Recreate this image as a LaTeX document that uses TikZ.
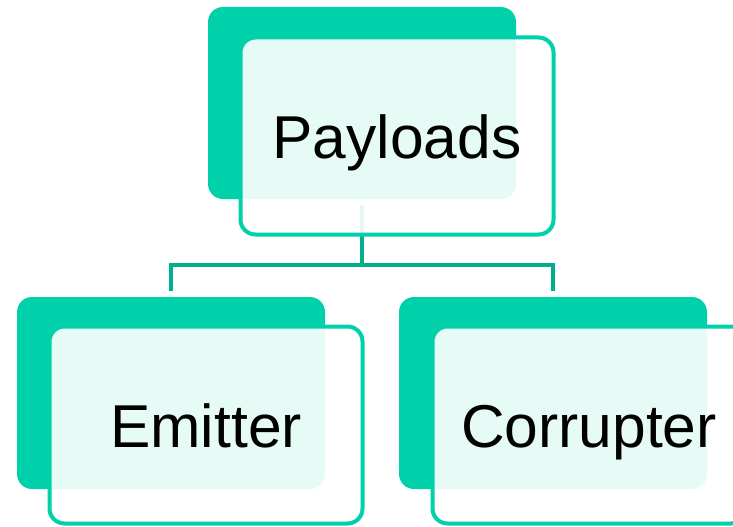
\documentclass[tikz,border=0pt]{standalone}
\usepackage{fontspec}
\setmainfont{Liberation Sans}
\definecolor{teal1}{RGB}{0,209,170}
\definecolor{teal2}{RGB}{0,176,140}
\begin{document}
\begin{tikzpicture}[x=1pt,y=-1pt,
  backbox/.style={rectangle,rounded corners=15pt,fill=teal1,draw=none,minimum width=308pt,minimum height=192pt,inner sep=0pt},
  frontbox/.style={rectangle,rounded corners=15pt,draw=teal1,line width=4pt,fill=white,fill opacity=0.9,text opacity=1,minimum height=197pt,minimum width=313pt,inner sep=0pt,text height=44pt,text depth=0pt,font=\fontsize{60.5}{72}\selectfont},
  conn/.style={draw=teal2,line width=4pt}]
\useasboundingbox (0,0) rectangle (733,527);
\clip (0,0) rectangle (733,527);
% back boxes
\node[backbox] (pb) at (362,103) {};
\node[backbox] (eb) at (171,393) {};
\node[backbox] (cb) at (553,393) {};
% connectors
\coordinate (c0) at (362,205);
\coordinate (cm) at (362,265);
\coordinate (cl) at (171,265);
\coordinate (cr) at (553,265);
\coordinate (el) at (171,291);
\coordinate (er) at (553,291);
\draw[conn] (c0) -- (cm);
\draw[conn] (el) -- (cl) -- (cr) -- (er);
% front boxes
\node[frontbox] (p) at (397,136) {Payloads};
\node[frontbox] (e) at (206,425) {Emitter};
\node[frontbox] (c) at (589,425) {Corrupter};
\end{tikzpicture}
\end{document}
